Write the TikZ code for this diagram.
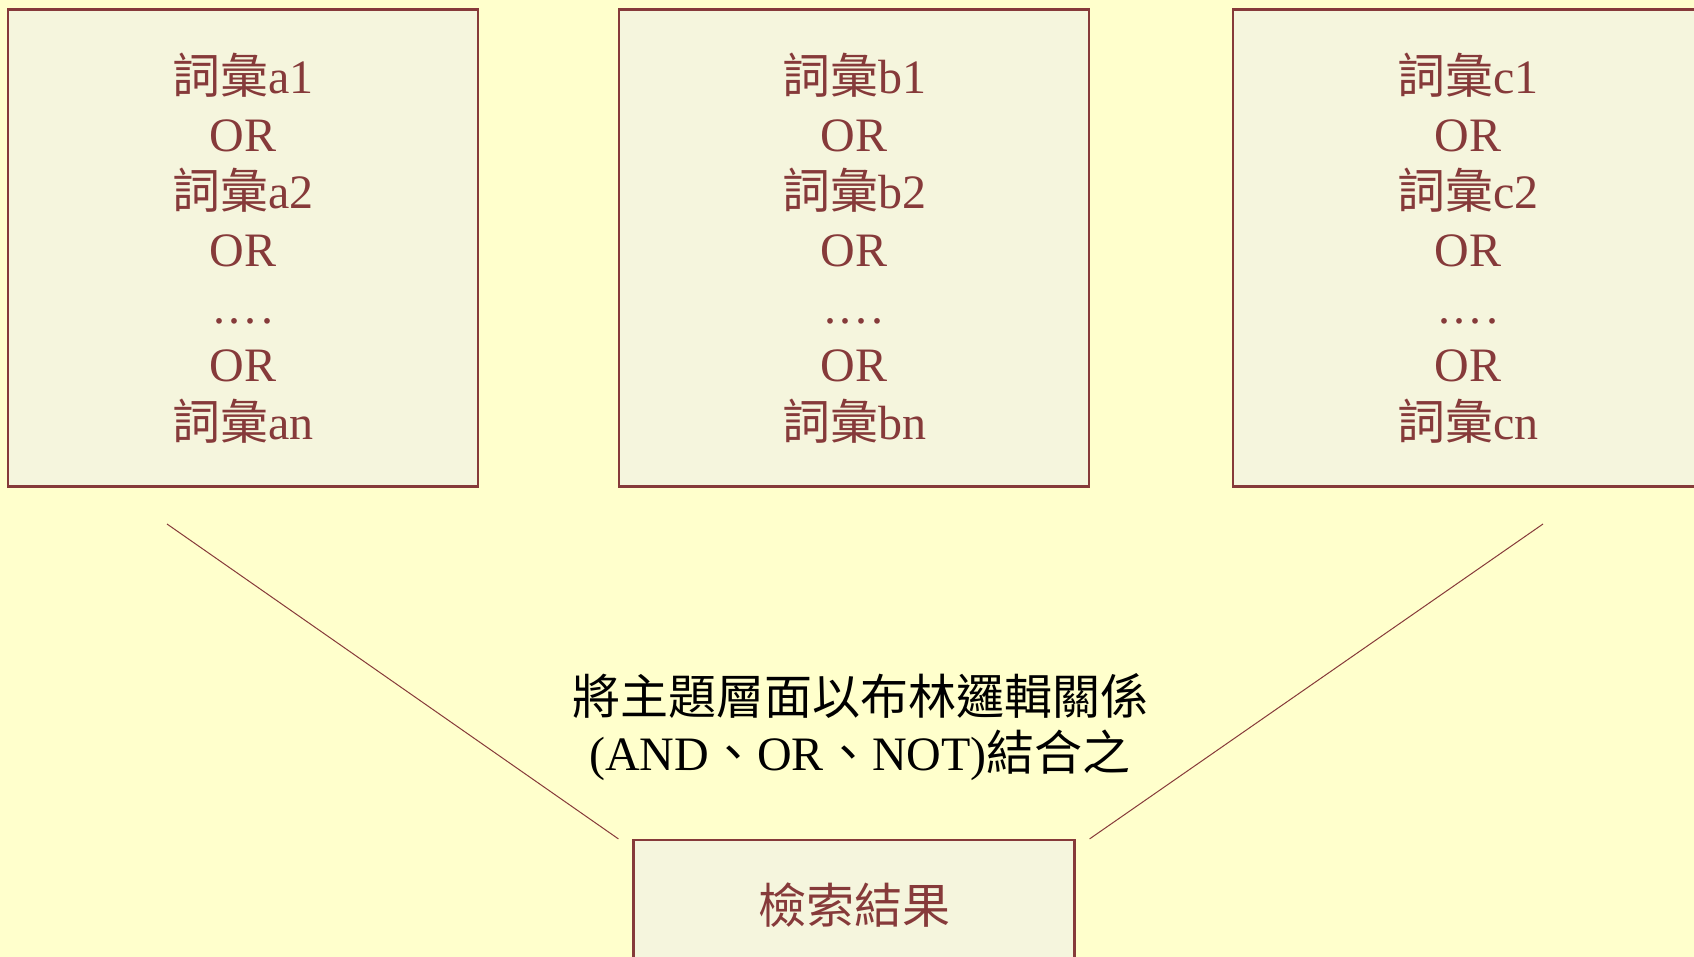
\documentclass[tikz,border=0pt]{standalone}
\usepackage{fontspec}
\setmainfont{Liberation Serif}
\newfontfamily\cjk{Noto Sans CJK TC}
\usepackage{tikz}
\usetikzlibrary{positioning}

\definecolor{bgyellow}{RGB}{255,255,204}
\definecolor{boxfill}{RGB}{245,245,221}
\definecolor{darkrose}{RGB}{134,58,58}
\newcommand{\vocab}[1]{{\cjk 詞彙}#1}

\begin{document}
\begin{tikzpicture}[x=0.5pt, y=-0.5pt,
  termbox/.style={draw=darkrose, line width=1.1pt, fill=boxfill, text=darkrose,
    minimum width=235pt, minimum height=238.5pt, align=center, inner sep=0pt,
    font=\fontsize{24}{28.8}\selectfont},
  link/.style={draw=darkrose, line width=0.5pt}]
  % Page
  \useasboundingbox (0,0) rectangle (1694,957);
  \clip (0,0) rectangle (1694,957);
  \fill[bgyellow] (0,0) rectangle (1694,957);

  % Term boxes
  \foreach \k/\xc in {a/243, b/854, c/1468} {
    \node[termbox] (box\k) at (\xc,248)
      {\vocab{\k1}\\OR\\\vocab{\k2}\\OR\\.\kern2pt.\kern2pt.\kern2pt.\\OR\\\vocab{\k n}};
  }

  % Note
  \node[font=\fontsize{24}{28}\selectfont, align=center] (note) at (860,727)
    {{\cjk 將主題層面以布林邏輯關係}\\(AND{\cjk 、}OR{\cjk 、}NOT){\cjk 結合之}};

  % Result box
  \node[termbox, minimum width=220.5pt, minimum height=65pt] (result) at (854,905)
    {{\cjk 檢索結果}};

  % Funnel lines
  \coordinate (startA) at (167,524);
  \coordinate (startC) at (1543,524);
  \draw[link] (startA) -- ([xshift=-7pt]result.north west);
  \draw[link] (startC) -- ([xshift=7pt]result.north east);
\end{tikzpicture}
\end{document}
